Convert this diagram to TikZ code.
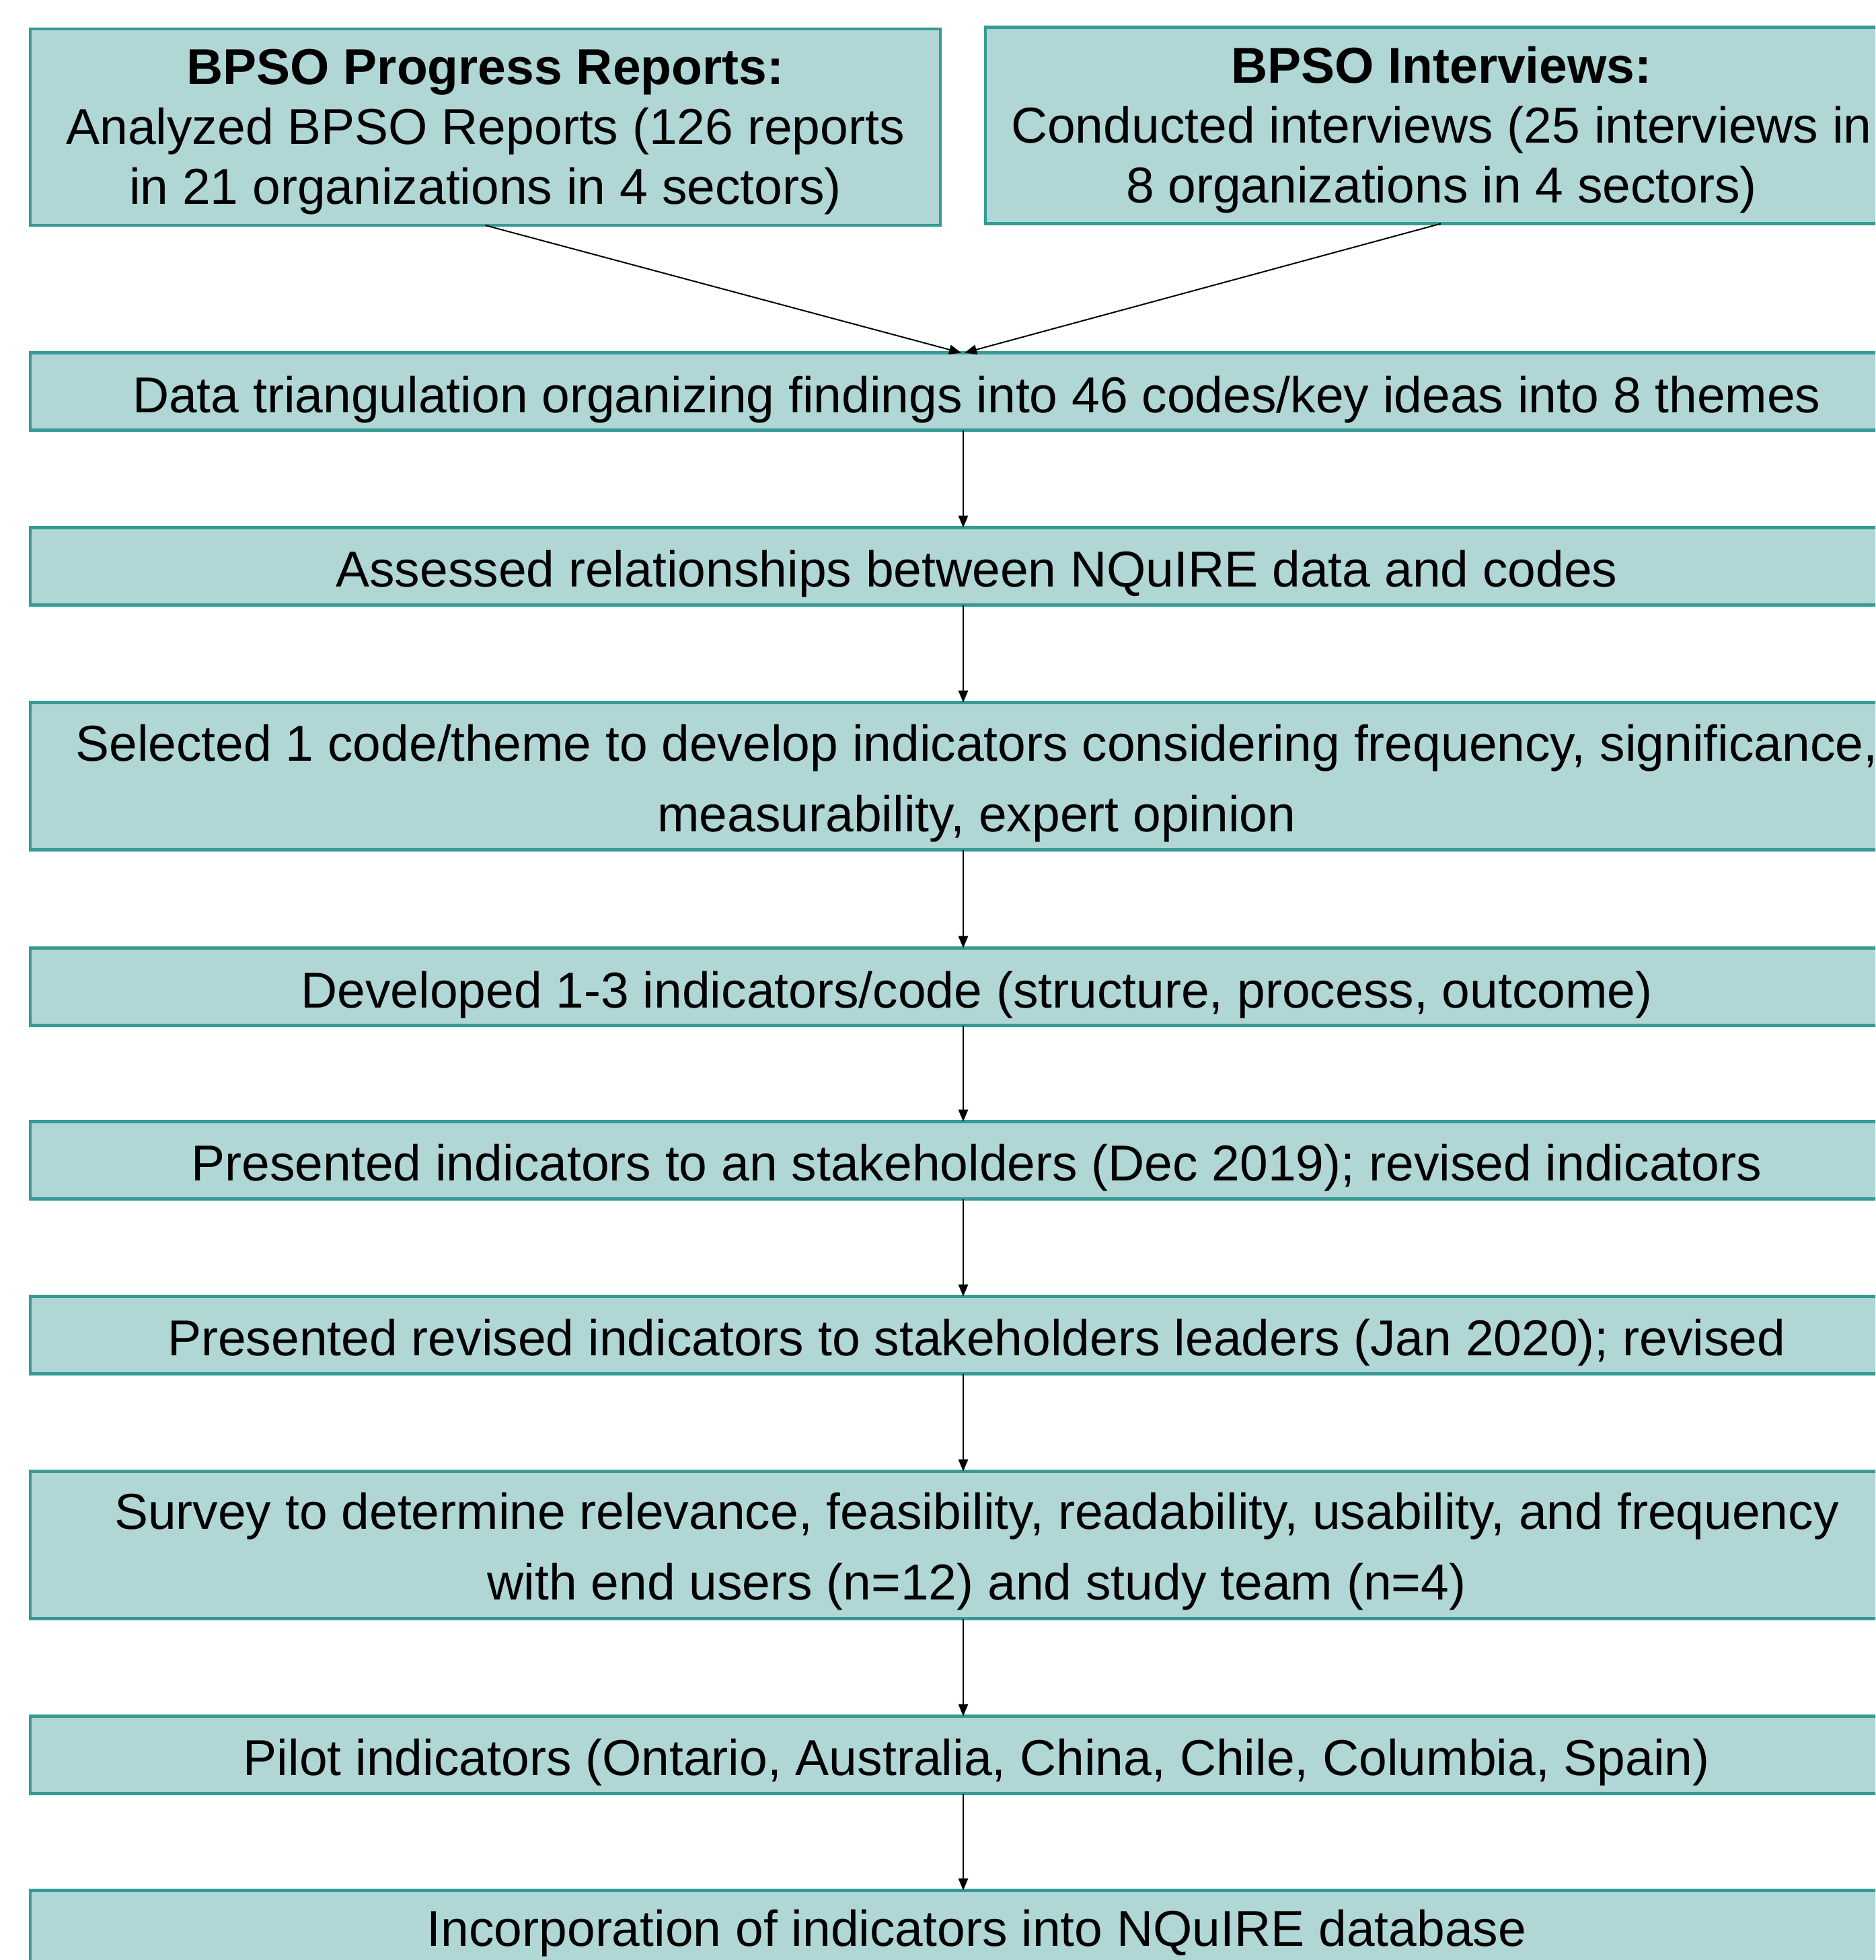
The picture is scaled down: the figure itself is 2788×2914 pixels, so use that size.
\documentclass[tikz,border=0pt]{standalone}
\usepackage{fontspec}
\setmainfont{Liberation Sans}
\usetikzlibrary{arrows.meta}
\definecolor{boxfill}{RGB}{176,214,214}
\definecolor{boxline}{RGB}{54,155,150}
\begin{document}
\begin{tikzpicture}[x=0.25pt,y=-0.25pt,
  flowbox/.style={draw=boxline,fill=boxfill,line width=1.125pt,inner sep=0pt,outer sep=0pt},
  topbox/.style={flowbox,minimum width=338.25pt,minimum height=73pt},
  onebox/.style={flowbox,minimum height=28.75pt},
  twobox/.style={flowbox,minimum height=54.75pt},
  txt/.style={anchor=base,inner sep=0pt,font=\fontsize{18.75pt}{22.25pt}\selectfont},
  txttwo/.style={anchor=base,inner sep=0pt,font=\fontsize{18.75pt}{26.25pt}\selectfont},
  arr/.style={line width=0.5pt,-{Triangle[length=4.5pt,width=3.6pt]}}
]
\useasboundingbox (0,0) rectangle (2788,2914);
\clip (0,0) rectangle (2788,2914);
\fill[white] (0,0) rectangle (2788,2914);

% boxes (wide boxes run past the right edge, as in the reference)
\node[topbox] (b1) at (721.5,189) {};
\node[topbox,minimum width=400pt] (b2) at (2265,186.5) {};
\node[onebox,minimum width=800pt] (b3) at (1645,582) {};
\node[onebox,minimum width=800pt] (b4) at (1645,842) {};
\node[twobox,minimum width=800pt] (b5) at (1645,1154) {};
\node[onebox,minimum width=800pt] (b6) at (1645,1467) {};
\node[onebox,minimum width=800pt] (b7) at (1645,1725) {};
\node[onebox,minimum width=800pt] (b8) at (1645,1985) {};
\node[twobox,minimum width=800pt] (b9) at (1645,2297) {};
\node[onebox,minimum width=800pt] (b10) at (1645,2609) {};
\node[onebox,minimum width=800pt] (b11) at (1645,2868) {};

% texts
\node[txt] (t1) at (721.5,125) {\begin{tabular}[t]{@{}c@{}}\textbf{BPSO Progress Reports:}\\Analyzed BPSO Reports (126 reports\\in 21 organizations in 4 sectors)\end{tabular}};
\node[txt] (t2) at (2143,123) {\begin{tabular}[t]{@{}c@{}}\textbf{BPSO Interviews:}\\Conducted interviews (25 interviews in\\8 organizations in 4 sectors)\end{tabular}};
\node[txt] (t3) at (1452,613) {Data triangulation organizing findings into 46 codes/key ideas into 8 themes};
\node[txt] (t4) at (1452,872) {Assessed relationships between NQuIRE data and codes};
\node[txttwo] (t5) at (1452,1131) {\begin{tabular}[t]{@{}c@{}}Selected 1 code/theme to develop indicators considering frequency, significance,\\measurability, expert opinion\end{tabular}};
\node[txt] (t6) at (1452,1498) {Developed 1-3 indicators/code (structure, process, outcome)};
\node[txt] (t7) at (1452,1755) {Presented indicators to an stakeholders (Dec 2019); revised indicators};
\node[txt] (t8) at (1452,2015) {Presented revised indicators to stakeholders leaders (Jan 2020); revised};
\node[txttwo] (t9) at (1452,2273) {\begin{tabular}[t]{@{}c@{}}Survey to determine relevance, feasibility, readability, usability, and frequency\\with end users (n=12) and study team (n=4)\end{tabular}};
\node[txt] (t10) at (1452,2639) {Pilot indicators (Ontario, Australia, China, Chile, Columbia, Spain)};
\node[txt] (t11) at (1452,2893) {Incorporation of indicators into NQuIRE database};

% connectors
\coordinate (x0) at (1432,0);
\coordinate (xl) at (1429,0);
\coordinate (xr) at (1434,0);
\draw[arr] (b1.south) -- (b3.north -| xl);
\draw[arr] (b2.south -| 2142,0) -- (b3.north -| xr);
\draw[arr] (b3.south -| x0) -- (b4.north -| x0);
\draw[arr] (b4.south -| x0) -- (b5.north -| x0);
\draw[arr] (b5.south -| x0) -- (b6.north -| x0);
\draw[arr] (b6.south -| x0) -- (b7.north -| x0);
\draw[arr] (b7.south -| x0) -- (b8.north -| x0);
\draw[arr] (b8.south -| x0) -- (b9.north -| x0);
\draw[arr] (b9.south -| x0) -- (b10.north -| x0);
\draw[arr] (b10.south -| x0) -- (b11.north -| x0);
\end{tikzpicture}
\end{document}
